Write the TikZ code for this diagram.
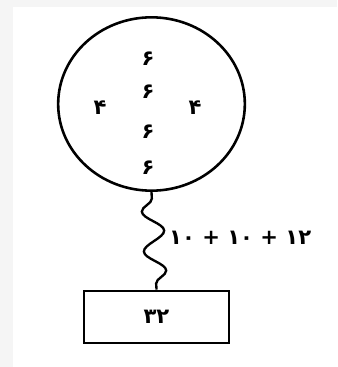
\documentclass[tikz,border=0pt]{standalone}
\usepackage{fontspec}
\usepackage{tikz}
\usetikzlibrary{shapes.geometric,decorations.pathmorphing}
\TeXXeTstate=1
\newfontfamily\arabicfont[Script=Arabic]{DejaVu Sans}
\definecolor{PageGray}{RGB}{245,245,245}
\tikzset{
  ring/.style={ellipse,draw=black,line width=2.2pt,minimum width=56mm,minimum height=52mm,inner sep=0pt},
  tank/.style={rectangle,draw=black,line width=2.5pt,minimum width=43.5mm,minimum height=15.6mm,inner sep=0pt},
  num/.style={font=\arabicfont\bfseries\fontsize{18}{21}\selectfont,inner sep=0pt},
  wire/.style={draw=black,line width=2pt,decorate,
    decoration={snake,segment length=12mm,amplitude=3.2mm,pre length=2mm,post length=1mm,mirror}},
}

\begin{document}
\begin{tikzpicture}[x=0.3mm,y=-0.3mm]
\fill[PageGray] (0,0) rectangle (337,367);
\fill[white] (13,7) rectangle (337,367);
\useasboundingbox (0,0) rectangle (337,367);
\node[ring] (ball) at (151.5,104) {};
\node[num] (s1) at (148,59) {۶};
\node[num] (s2) at (148,92) {۶};
\node[num] (s3) at (148,132) {۶};
\node[num] (s4) at (148,168) {۶};
\node[num] (f1) at (100,108) {۴};
\node[num] (f2) at (195,108) {۴};
\node[tank,num] (box) at (156.5,317) {۳۲};
\draw[wire] (ball.south) -- (box.north);
\node[num,anchor=west] (sum) at (169,238) {\beginR ۱۲ + ۱۰ + ۱۰\endR};
\end{tikzpicture}
\end{document}
